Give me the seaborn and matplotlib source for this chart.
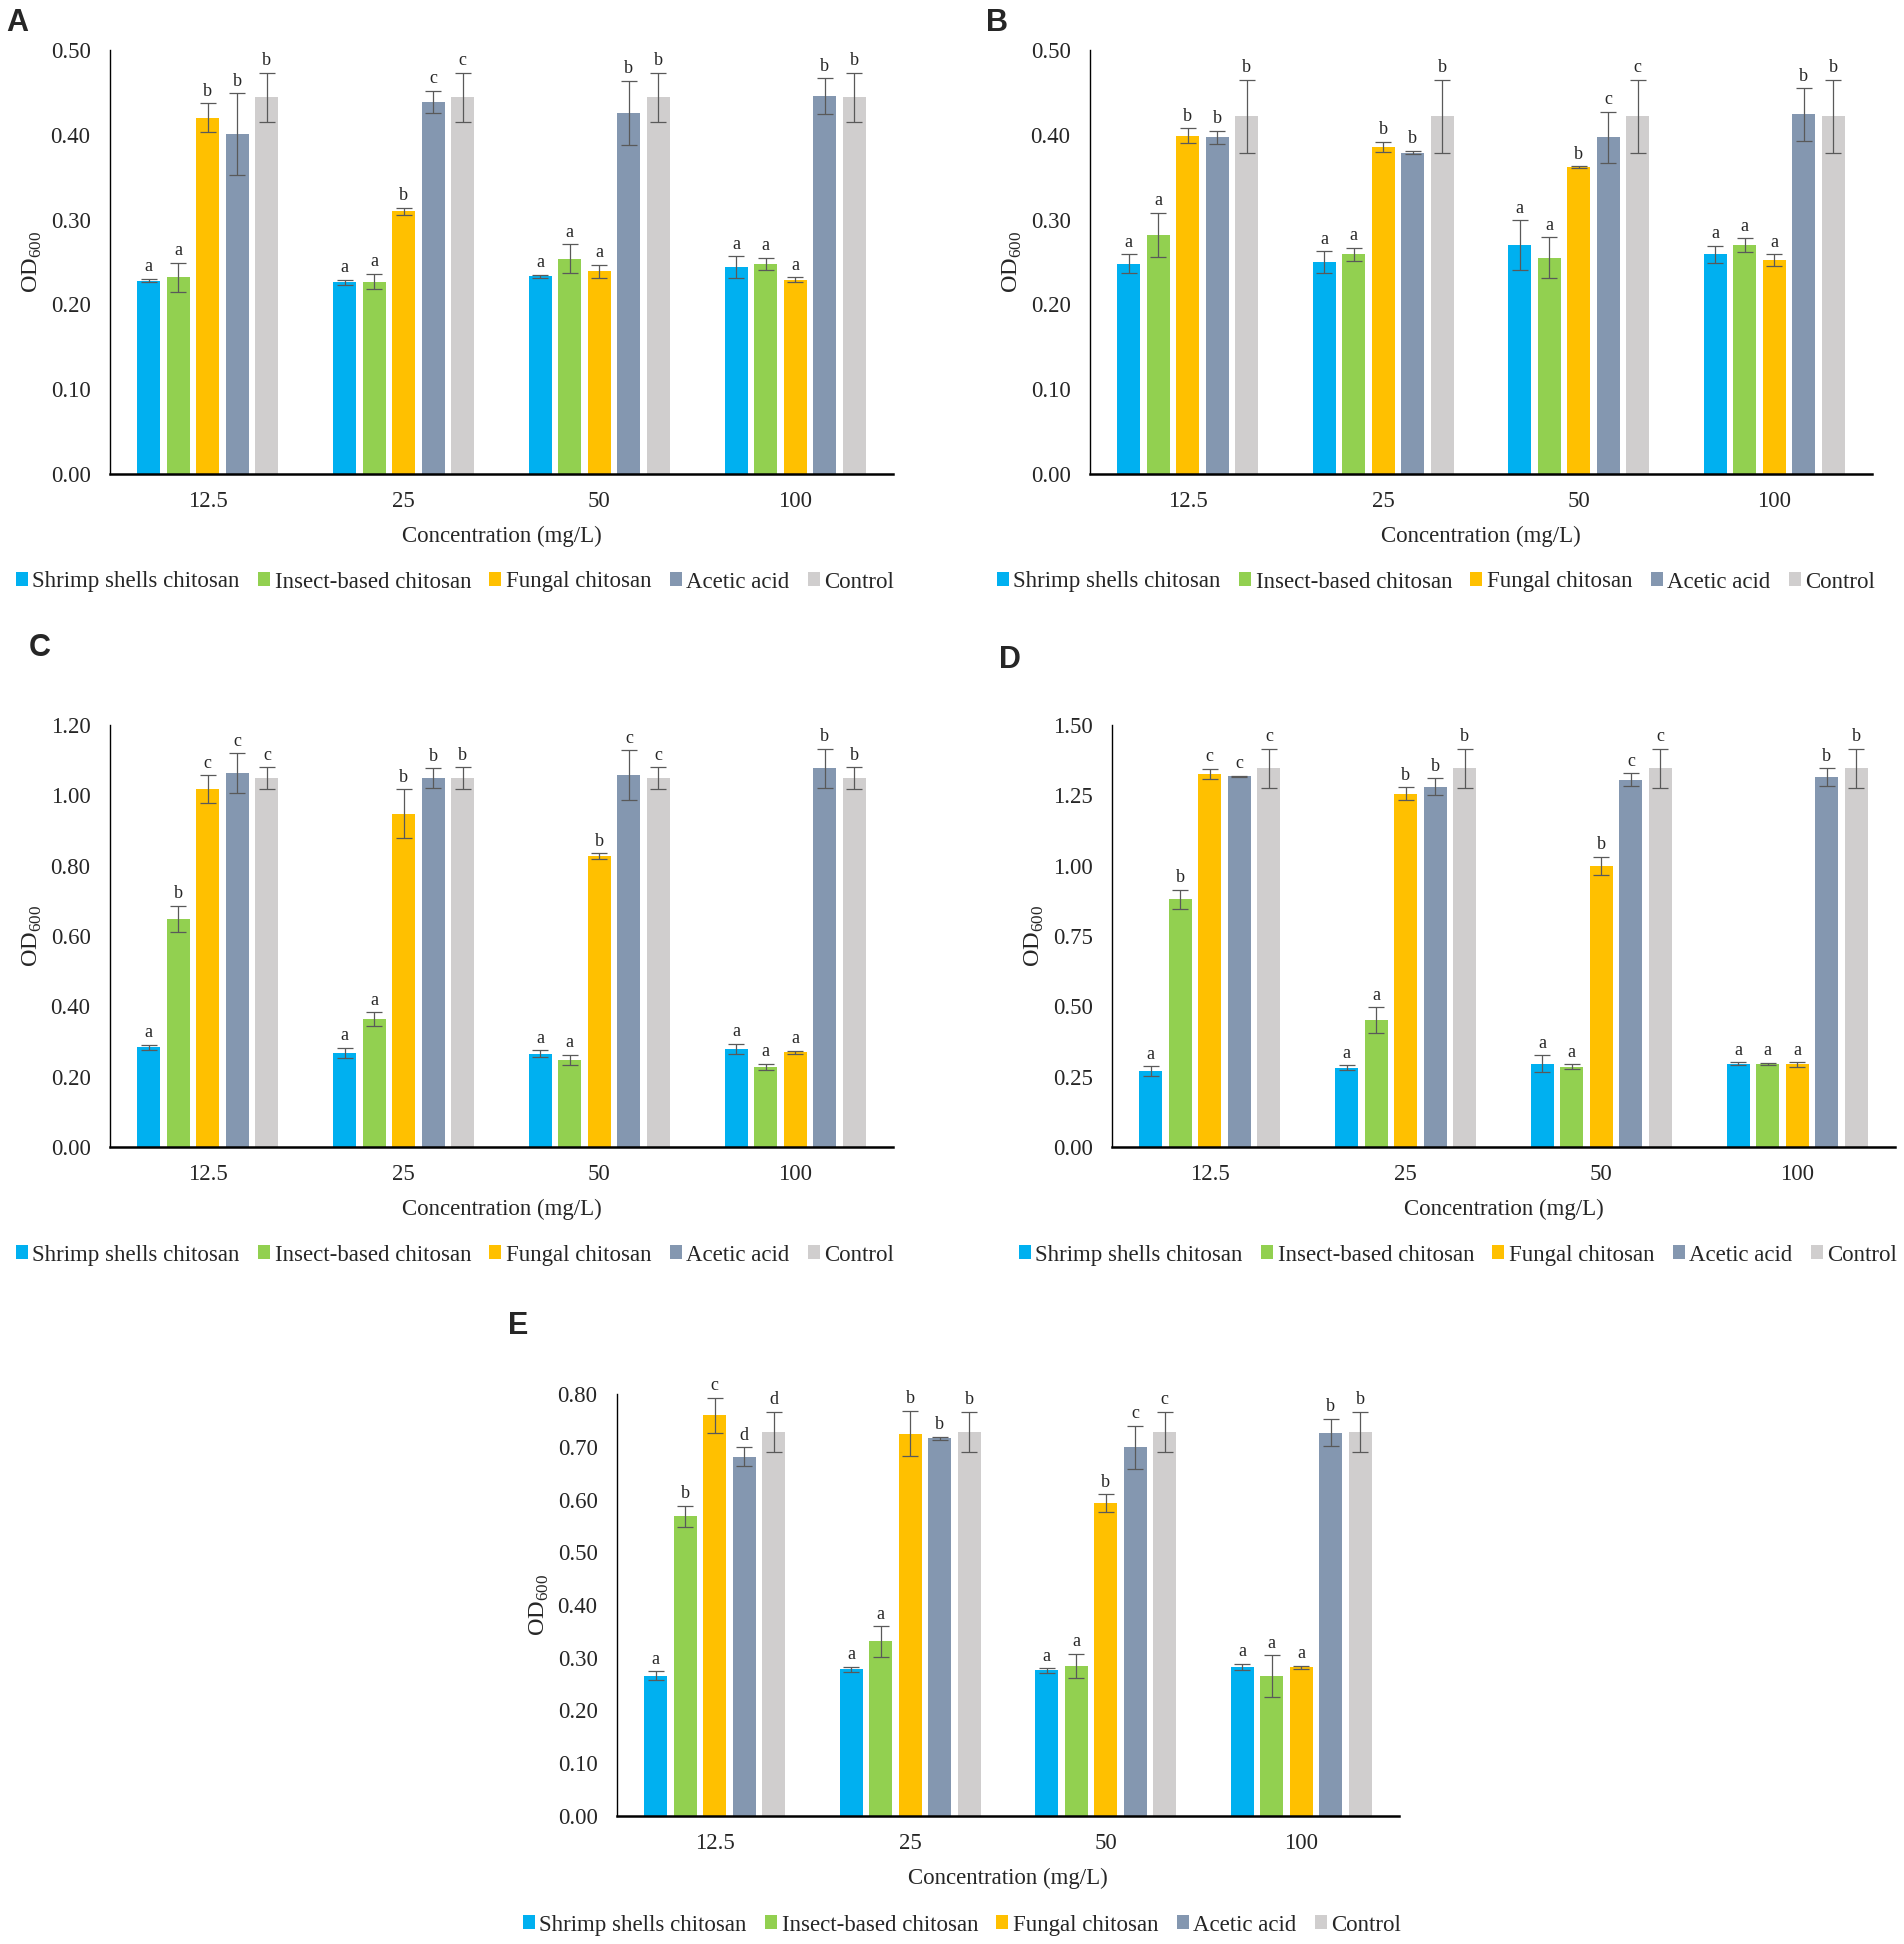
import matplotlib
matplotlib.use("Agg")
import matplotlib.pyplot as plt
from matplotlib.patches import Patch
from matplotlib.ticker import FormatStrFormatter
import numpy as np
import pandas as pd
import seaborn as sns

# categories
concentrations = ["12.5", "25", "50", "100"]
treatments = ["Shrimp shells chitosan", "Insect-based chitosan", "Fungal chitosan",
              "Acetic acid", "Control"]
colors = ["#00B0F0", "#92D050", "#FFC000", "#8497B0", "#D0CECE"]

# rows = treatments, columns = concentrations
a_mean = [[0.228, 0.226, 0.233, 0.244],
          [0.232, 0.227, 0.254, 0.248],
          [0.420, 0.310, 0.239, 0.229],
          [0.401, 0.439, 0.426, 0.446],
          [0.444, 0.444, 0.444, 0.444]]
a_err = [[0.002, 0.003, 0.002, 0.013],
         [0.017, 0.009, 0.017, 0.007],
         [0.017, 0.004, 0.008, 0.003],
         [0.048, 0.013, 0.038, 0.021],
         [0.029, 0.029, 0.029, 0.029]]
a_sig = ["aaaa", "aaaa", "bbaa", "bcbb", "bcbb"]

b_mean = [[0.248, 0.250, 0.270, 0.259],
          [0.282, 0.259, 0.255, 0.270],
          [0.399, 0.386, 0.362, 0.252],
          [0.397, 0.379, 0.397, 0.424],
          [0.422, 0.422, 0.422, 0.422]]
b_err = [[0.011, 0.013, 0.029, 0.010],
         [0.026, 0.008, 0.024, 0.008],
         [0.009, 0.006, 0.001, 0.007],
         [0.008, 0.002, 0.030, 0.031],
         [0.043, 0.043, 0.043, 0.043]]
b_sig = ["aaaa", "aaaa", "bbba", "bbcb", "bbcb"]

c_mean = [[0.284, 0.268, 0.265, 0.279],
          [0.649, 0.363, 0.247, 0.228],
          [1.017, 0.948, 0.828, 0.269],
          [1.063, 1.049, 1.057, 1.077],
          [1.049, 1.049, 1.049, 1.049]]
c_err = [[0.007, 0.014, 0.010, 0.014],
         [0.037, 0.020, 0.015, 0.009],
         [0.040, 0.070, 0.008, 0.005],
         [0.057, 0.028, 0.071, 0.055],
         [0.031, 0.031, 0.031, 0.031]]
c_sig = ["aaaa", "baaa", "cbba", "cbcb", "cbcb"]

d_mean = [[0.270, 0.282, 0.296, 0.296],
          [0.880, 0.450, 0.285, 0.296],
          [1.327, 1.256, 1.000, 0.294],
          [1.318, 1.281, 1.306, 1.315],
          [1.346, 1.346, 1.346, 1.346]]
d_err = [[0.018, 0.008, 0.031, 0.005],
         [0.035, 0.046, 0.009, 0.004],
         [0.018, 0.022, 0.032, 0.008],
         [0.002, 0.030, 0.023, 0.032],
         [0.070, 0.070, 0.070, 0.070]]
d_sig = ["aaaa", "baaa", "cbba", "cbcb", "cbcb"]

e_mean = [[0.266, 0.278, 0.276, 0.283],
          [0.568, 0.331, 0.285, 0.265],
          [0.760, 0.725, 0.593, 0.282],
          [0.681, 0.716, 0.699, 0.727],
          [0.728, 0.728, 0.728, 0.728]]
e_err = [[0.008, 0.005, 0.004, 0.006],
         [0.020, 0.029, 0.023, 0.040],
         [0.033, 0.043, 0.017, 0.003],
         [0.018, 0.003, 0.041, 0.026],
         [0.038, 0.038, 0.038, 0.038]]
e_sig = ["aaaa", "baaa", "cbba", "dbcb", "dbcb"]

sns.set_style("white")
plt.rcParams["font.family"] = ["Liberation Serif", "DejaVu Serif"]
plt.rcParams["mathtext.fontset"] = "custom"
plt.rcParams["mathtext.rm"] = "Liberation Serif"

W, H = 1904, 1944
fig = plt.figure(figsize=(W / 100, H / 100), dpi=100)


def px_axes(left, right, top, bottom):
    return fig.add_axes([left / W, 1 - bottom / H, (right - left) / W, (bottom - top) / H])


def draw_panel(ax, mean, err, sig, ymax, ystep, leg_xy, tag, tag_xy):
    df = pd.DataFrame({
        "Concentration": np.tile(concentrations, len(treatments)),
        "Treatment": np.repeat(treatments, len(concentrations)),
        "OD": np.ravel(mean),
    })
    sns.barplot(data=df, x="Concentration", y="OD", hue="Treatment",
                order=concentrations, hue_order=treatments, palette=colors,
                saturation=1, width=0.754, gap=0.215, errorbar=None,
                linewidth=0, legend=False, ax=ax)

    bars = list(ax.containers)
    for i, cont in enumerate(bars):
        xs = [b.get_x() + b.get_width() / 2 for b in cont]
        ys = [b.get_height() for b in cont]
        ax.errorbar(xs, ys, yerr=err[i], fmt="none", ecolor="#595959",
                    elinewidth=0.9, capsize=6, capthick=0.9)
        for j, (x, y) in enumerate(zip(xs, ys)):
            ax.annotate(sig[i][j], (x, y + err[i][j]), xytext=(0, 2.5),
                        textcoords="offset points", ha="center", va="bottom",
                        fontsize=13)

    ax.set_ylim(0, ymax)
    ax.set_xlim(-0.5, len(concentrations) - 0.5)
    ax.set_yticks(np.arange(0, ymax + 1e-9, ystep))
    ax.yaxis.set_major_formatter(FormatStrFormatter("%.2f"))
    ax.tick_params(axis="y", length=0, pad=14, labelsize=16.5)
    ax.tick_params(axis="x", length=0, pad=12, labelsize=16.5)
    ax.set_xlabel("Concentration (mg/L)", fontsize=16.5, labelpad=10)
    ax.set_ylabel(r"OD$_{\mathrm{600}}$", fontsize=17.5, labelpad=5)
    for s in ["top", "right"]:
        ax.spines[s].set_visible(False)
    ax.spines["left"].set_linewidth(1.0)
    ax.spines["left"].set_color("black")
    ax.spines["bottom"].set_linewidth(1.8)
    ax.spines["bottom"].set_color("black")

    handles = [Patch(facecolor=c, edgecolor="none") for c in colors]
    fig.legend(handles, treatments, loc="center",
               bbox_to_anchor=(leg_xy[0] / W, 1 - leg_xy[1] / H),
               ncol=5, frameon=False, fontsize=16.5, handlelength=0.52,
               handleheight=0.55, handletextpad=0.2, columnspacing=0.8,
               borderpad=0, borderaxespad=0)

    fig.text(tag_xy[0] / W, 1 - tag_xy[1] / H, tag, fontfamily="Liberation Sans",
             fontweight="bold", fontsize=22, ha="left", va="top")


ax_a = px_axes(110, 893, 50, 474)
draw_panel(ax_a, a_mean, a_err, a_sig, 0.5, 0.1, (455, 582), "A", (6, 8))

ax_b = px_axes(1090, 1872, 50, 474)
draw_panel(ax_b, b_mean, b_err, b_sig, 0.5, 0.1, (1436, 582), "B", (986, 8))

ax_c = px_axes(110, 893, 725, 1147)
draw_panel(ax_c, c_mean, c_err, c_sig, 1.2, 0.2, (455, 1255), "C", (29, 633))

ax_d = px_axes(1112, 1895, 725, 1147)
draw_panel(ax_d, d_mean, d_err, d_sig, 1.5, 0.25, (1458, 1255), "D", (999, 645))

ax_e = px_axes(617, 1399, 1394, 1816)
draw_panel(ax_e, e_mean, e_err, e_sig, 0.8, 0.1, (962, 1925), "E", (508, 1311))

fig.savefig("out.png", dpi=100)
